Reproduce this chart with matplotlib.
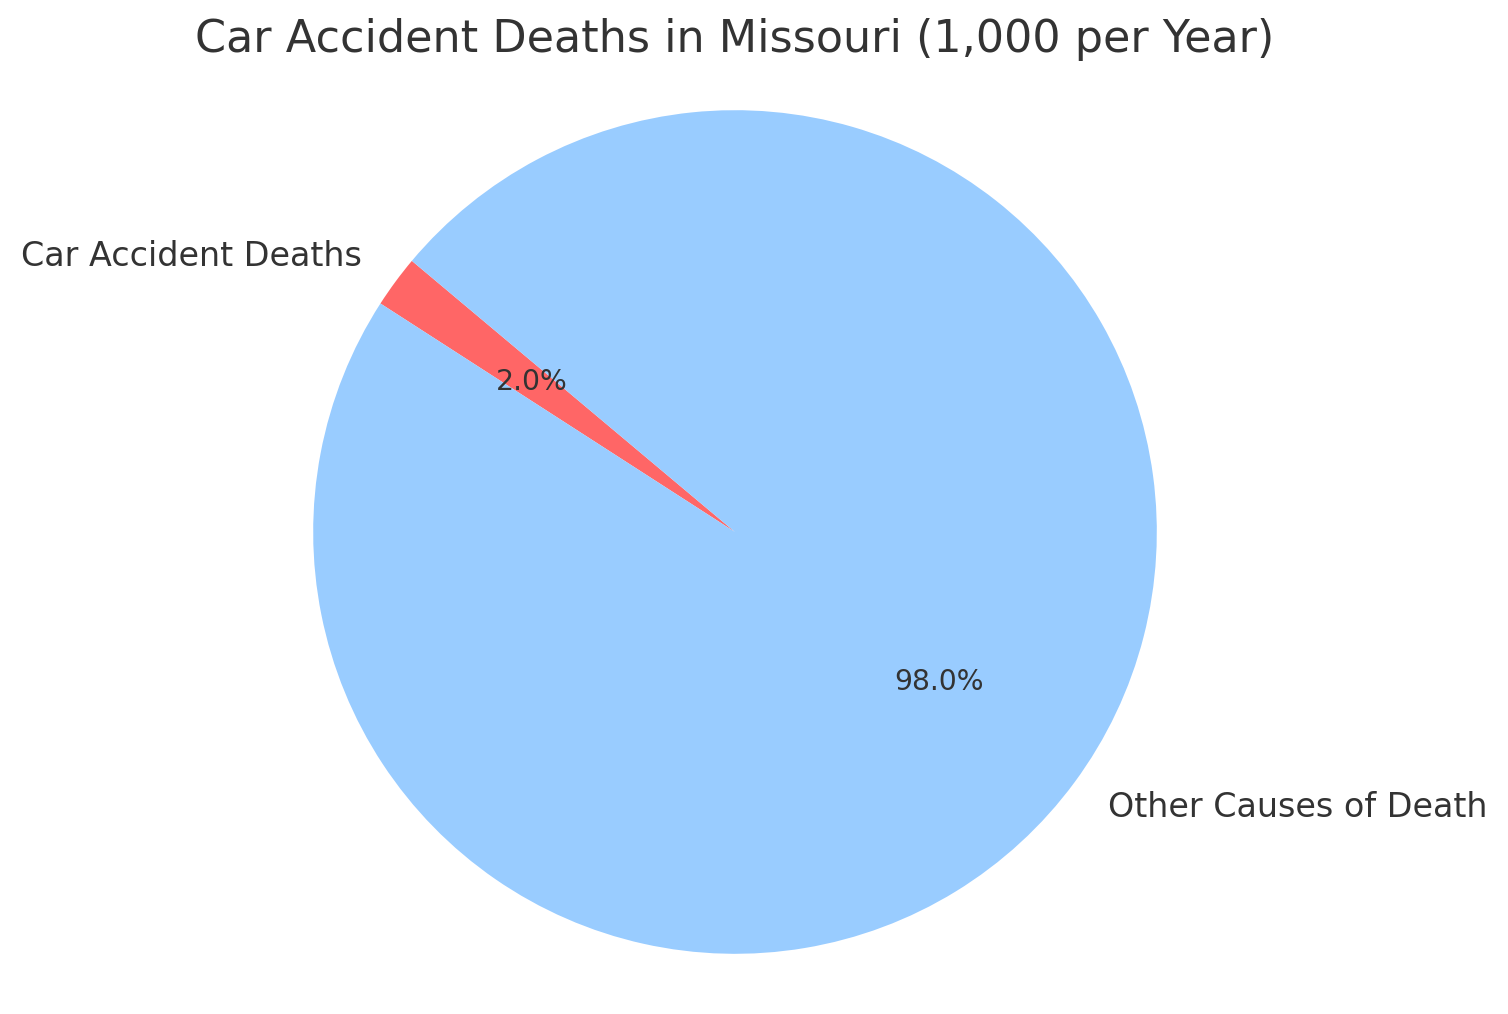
import matplotlib.pyplot as plt

labels = ['Car Accident Deaths', 'Other Causes of Death']
sizes = [2.0, 98.0]
colors = ['#ff6666', '#99ccff']

plt.rcParams.update({
    'font.family': 'DejaVu Sans',
    'text.color': '#333333',
})

fig = plt.figure(figsize=(7.54, 5.07), dpi=200)
# square axes in pixels so the pie sits where the original one does
ax = fig.add_axes([271 / 1508, 18 / 1014, 928 / 1508, 928 / 1014])
ax.pie(sizes, labels=labels, colors=colors, autopct='%1.1f%%', startangle=140,
       textprops={'fontsize': 10.2, 'color': '#333333'})
for t in ax.texts:
    if '%' not in t.get_text():
        t.set_fontsize(12)
ax.set_xlim(-1.1, 1.1)
ax.set_ylim(-1.1, 1.1)
ax.set_aspect('auto')
fig.suptitle('Car Accident Deaths in Missouri (1,000 per Year)', fontsize=16,
             color='#333333', x=735 / 1508, y=0.982)
fig.savefig('out.png', dpi=200, facecolor='white')
